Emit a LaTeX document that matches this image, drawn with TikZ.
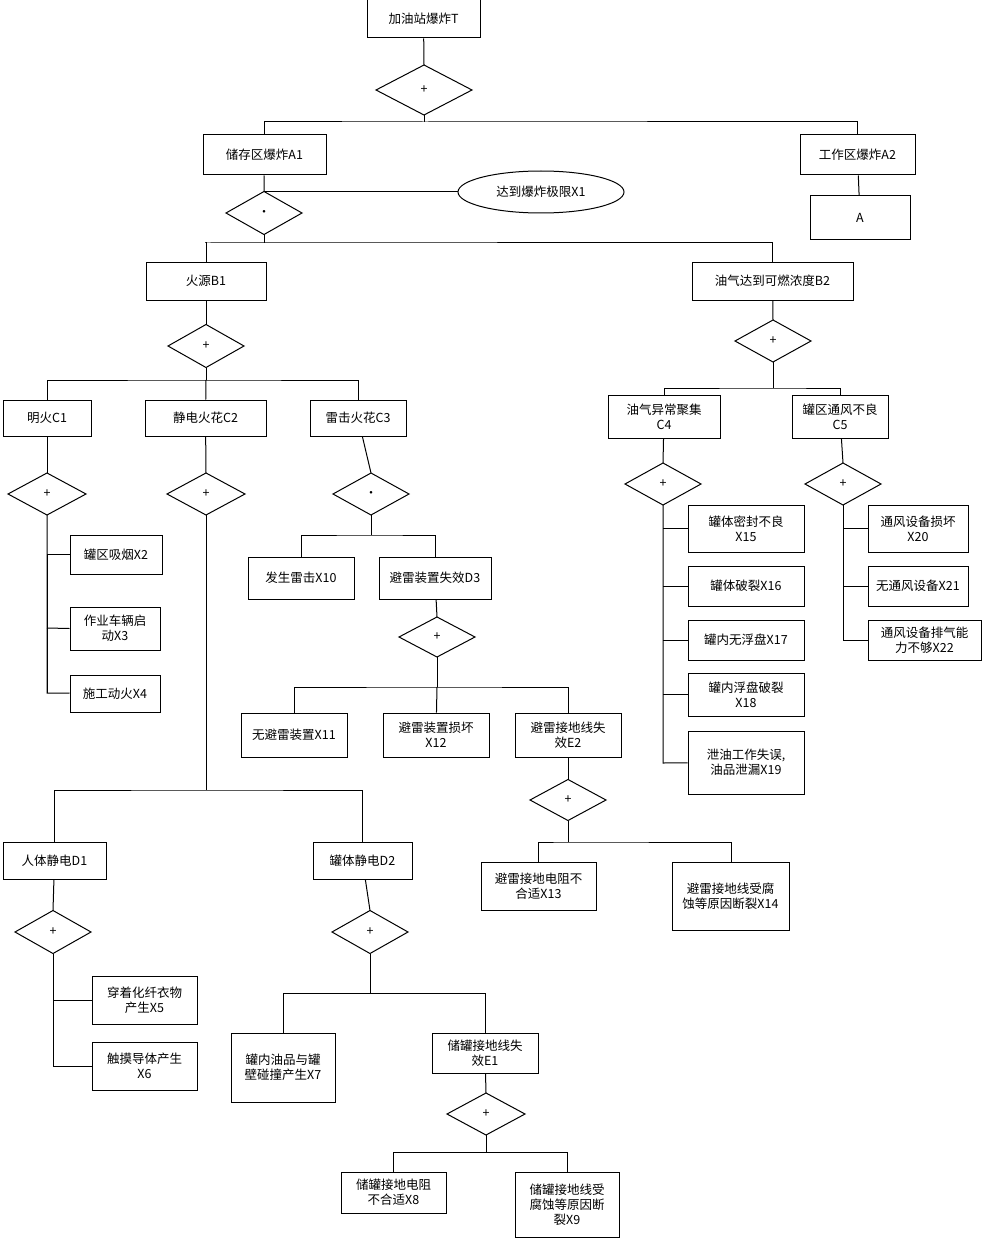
\documentclass[tikz,border=0pt]{standalone}
\usepackage{fontspec}
\setmainfont{Noto Sans CJK SC}
\usetikzlibrary{shapes.geometric}
\begin{document}
\begin{tikzpicture}[x=1pt,y=-1pt,line width=1pt,
  every node/.style={font=\fontsize{12.5}{15}\selectfont,align=center,inner sep=1pt},
  gate/.style={draw,diamond,aspect=1.8,minimum width=0pt}]
\useasboundingbox (0,0) rectangle (984,1241);
\newcommand\bx[6]{\node[draw,minimum width={#4-#2},minimum height={#5-#3}] (#1) at ({(#2+#4)/2},{(#3+#5)/2}) {#6};}
\newcommand\gt[6]{\draw (#2,#3) -- (#4,{#3-#5/2}) -- ({#2+#4-#2+#4-#2},#3) -- (#4,{#3+#5/2}) -- cycle; \node (#1) at (#4,#3) {#6};
  \coordinate (#1n) at (#4,{#3-#5/2}); \coordinate (#1s) at (#4,{#3+#5/2});}
% boxes
\bx{T}{367}{0}{480}{38}{加油站爆炸T}
\bx{A1}{203}{135}{326}{175}{储存区爆炸A1}
\bx{A2}{800}{135}{915}{175}{工作区爆炸A2}
\bx{A}{810}{196}{910}{240}{A}
\node[draw,ellipse,minimum width=166,minimum height=42] (X1) at (541,192) {达到爆炸极限X1};
\bx{B1}{146}{262}{266}{300}{火源B1}
\bx{B2}{692}{262}{853}{300}{油气达到可燃浓度B2}
\bx{C1}{3}{400}{91}{436}{明火C1}
\bx{C2}{145}{400}{266}{436}{静电火花C2}
\bx{C3}{310}{400}{406}{436}{雷击火花C3}
\bx{X2}{70}{535}{162}{574}{罐区吸烟X2}
\bx{X3}{70}{607}{160}{650}{作业车辆启\\动X3}
\bx{X4}{70}{675}{160}{712}{施工动火X4}
\bx{D1}{3}{842}{106}{879}{人体静电D1}
\bx{D2}{313}{842}{412}{879}{罐体静电D2}
\bx{X5}{92}{976}{197}{1024}{穿着化纤衣物\\产生X5}
\bx{X6}{92}{1042}{197}{1090}{触摸导体产生\\X6}
\bx{X7}{231}{1033}{335}{1102}{罐内油品与罐\\壁碰撞产生X7}
\bx{E1}{432}{1033}{538}{1073}{储罐接地线失\\效E1}
\bx{X8}{341}{1172}{446}{1213}{储罐接地电阻\\不合适X8}
\bx{X9}{515}{1172}{619}{1237}{储罐接地线受\\腐蚀等原因断\\裂X9}
\bx{X10}{248}{557}{354}{599}{发生雷击X10}
\bx{D3}{379}{557}{491}{599}{避雷装置失效D3}
\bx{X11}{241}{713}{347}{757}{无避雷装置X11}
\bx{X12}{383}{713}{489}{757}{避雷装置损坏\\X12}
\bx{E2}{515}{713}{621}{757}{避雷接地线失\\效E2}
\bx{X13}{481}{862}{596}{910}{避雷接地电阻不\\合适X13}
\bx{X14}{672}{862}{789}{930}{避雷接地线受腐\\蚀等原因断裂X14}
\bx{C4}{608}{395}{720}{438}{油气异常聚集\\C4}
\bx{C5}{792}{395}{888}{438}{罐区通风不良\\C5}
\bx{X15}{688}{505}{804}{552}{罐体密封不良\\X15}
\bx{X16}{688}{566}{804}{606}{罐体破裂X16}
\bx{X17}{688}{620}{804}{660}{罐内无浮盘X17}
\bx{X18}{688}{673}{804}{716}{罐内浮盘破裂\\X18}
\bx{X19}{688}{731}{804}{794}{泄油工作失误,\\油品泄漏X19}
\bx{X20}{868}{505}{968}{552}{通风设备损坏\\X20}
\bx{X21}{868}{566}{968}{606}{无通风设备X21}
\bx{X22}{868}{620}{981}{660}{通风设备排气能\\力不够X22}
% gates: name, left x, center y, center x, height, symbol
\gt{g0}{376}{90}{424}{50}{+}
\gt{g1}{226}{213}{264}{43}{·}
\gt{g2}{168}{346}{206}{43}{+}
\gt{g3}{735}{341}{773}{42}{+}
\gt{g4}{8}{494}{47}{42}{+}
\gt{g5}{167}{494}{206}{42}{+}
\gt{g6}{333}{494}{371}{42}{·}
\gt{g7}{399}{637}{437}{40}{+}
\gt{g8}{530}{800}{568}{41}{+}
\gt{g9}{15}{932}{53}{43}{+}
\gt{g10}{332}{932}{370}{43}{+}
\gt{g11}{447}{1114}{486}{42}{+}
\gt{g12}{625}{484}{663}{42}{+}
\gt{g13}{805}{484}{843}{42}{+}
% connectors
\coordinate (j0) at (424,122); \coordinate (j1) at (205,243);
\coordinate (j2) at (206,380); \coordinate (j3) at (773,388);
\coordinate (j5) at (206,790); \coordinate (j6) at (371,535);
\coordinate (j7) at (437,687); \coordinate (j8) at (568,842);
\coordinate (j10) at (370,993); \coordinate (j11) at (486,1152);
\coordinate (k4) at (47,693); \coordinate (k9) at (53,1066);
\coordinate (k12) at (663,763); \coordinate (k13) at (843,640);
\draw (T) -- (g0n); \draw (g0s) -- (j0); \draw (A1) |- (j0) -| (A2);
\draw (A2) -- (A); \draw (A1) -- (g1n); \draw (264,192) -- (X1);
\draw (g1s) -- (264,243); \draw (B1.north) |- (j1) -| (B2.north);
\draw (B1) -- (g2n); \draw (g2s) -- (j2); \draw (C1.north) |- (j2) -| (C3.north); \draw (j2) -- (C2);
\draw (B2) -- (g3n); \draw (g3s) -- (j3); \draw (C4.north) |- (j3) -| (C5.north);
\draw (C1) -- (g4n); \draw (g4s) -- (k4) -- (X4); \draw (X2.west) -| (k4); \draw (X3.west) -- (47,628);
\draw (C2) -- (g5n); \draw (g5s) -- (j5); \draw (D1.north) |- (j5) -| (D2.north);
\draw (C3) -- (g6n); \draw (g6s) -- (j6); \draw (X10.north) |- (j6) -| (D3.north);
\draw (D3) -- (g7n); \draw (g7s) -- (j7); \draw (X11.north) |- (j7) -| (E2.north); \draw (j7) -- (X12);
\draw (E2) -- (g8n); \draw (g8s) -- (j8); \draw (538,862) |- (j8) -| (731,862);
\draw (D1) -- (g9n); \draw (g9s) -- (k9) -- (X6); \draw (X5.west) -- (53,1000);
\draw (D2) -- (g10n); \draw (g10s) -- (j10); \draw (283,1033) |- (j10) -| (E1.north);
\draw (E1) -- (g11n); \draw (g11s) -- (j11); \draw (393,1172) |- (j11) -| (567,1172);
\draw (C4) -- (g12n); \draw (g12s) -- (k12) -- (X19); \foreach \n in {X15,X16,X17,X18} \draw (\n.west) -- (\n.west -| k12);
\draw (C5) -- (g13n); \draw (g13s) -- (k13) -- (X22); \foreach \n in {X20,X21} \draw (\n.west) -- (\n.west -| k13);
\end{tikzpicture}
\end{document}
